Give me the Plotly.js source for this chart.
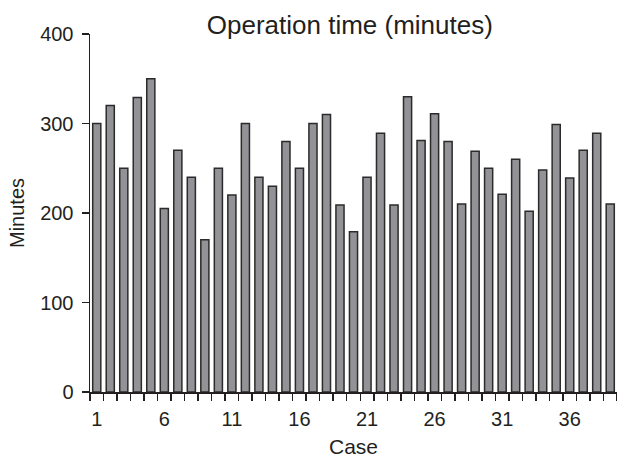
<!DOCTYPE html>
<html>
<head>
<meta charset="utf-8">
<script src="https://cdn.plot.ly/plotly-3.0.1.min.js"></script>
<style>html,body{margin:0;padding:0;background:#fff;}#chart{width:617px;height:458px;}</style>
</head>
<body>
<div id="chart"></div>
<script>
const cases = Array.from({length: 39}, (_, i) => i + 1);
const minutes = [300, 320, 250, 329, 350, 205, 270, 240, 170, 250,
                 220, 300, 240, 230, 280, 250, 300, 310, 209, 179,
                 240, 289, 209, 330, 281, 311, 280, 210, 269, 250,
                 221, 260, 202, 248, 299, 239, 270, 289, 210];
const xTickVals = [1, 6, 11, 16, 21, 26, 31, 36];
const xTickText = ['1', '6', '11', '16', '21', '26', '31', '36'];
const yTickVals = [0, 100, 200, 300, 400];

const ink = '#231f20';
const fontFam = '"Liberation Sans", Arial, sans-serif';

const trace = {
  type: 'bar',
  x: cases,
  y: minutes,
  width: 0.6,
  marker: {color: '#929297', line: {color: '#2b2b2b', width: 1.5}},
  hoverinfo: 'x+y'
};

const layout = {
  width: 617, height: 458,
  margin: {l: 90, r: 0, t: 34, b: 66},
  paper_bgcolor: '#fff', plot_bgcolor: '#fff',
  showlegend: false,
  font: {family: fontFam, color: ink, size: 20},
  title: {text: 'Operation time (minutes)', font: {size: 26, color: ink, family: fontFam},
          x: 0.493, xref: 'paper', y: 0.946, yref: 'container', yanchor: 'middle'},
  xaxis: {
    range: [0.5, 39.5], showgrid: false, zeroline: false,
    showline: true, linecolor: ink, linewidth: 1.5,
    tickmode: 'array', tickvals: xTickVals, ticktext: xTickText,
    ticks: 'outside', ticklen: 7, tickcolor: 'rgba(0,0,0,0)',
    ticklabelstandoff: 1,
    tickfont: {size: 20, color: ink},
    minor: {tickmode: 'linear', tick0: 0.5, dtick: 1, ticks: 'outside', ticklen: 7, tickwidth: 1.5, tickcolor: ink, showgrid: false},
    title: {text: 'Case', font: {size: 21, color: ink}, standoff: 11}
  },
  yaxis: {
    range: [0, 400], showgrid: false, zeroline: false,
    showline: true, linecolor: ink, linewidth: 1.5,
    tickmode: 'array', tickvals: yTickVals,
    ticks: 'outside', ticklen: 7, tickwidth: 1.5, tickcolor: ink,
    ticklabelstandoff: 4,
    tickfont: {size: 20, color: ink},
    title: {text: 'Minutes', font: {size: 20, color: ink}, standoff: 10}
  },
  bargap: 0.4
};

Plotly.newPlot('chart', [trace], layout, {displayModeBar: false, staticPlot: true});
</script>
</body>
</html>
